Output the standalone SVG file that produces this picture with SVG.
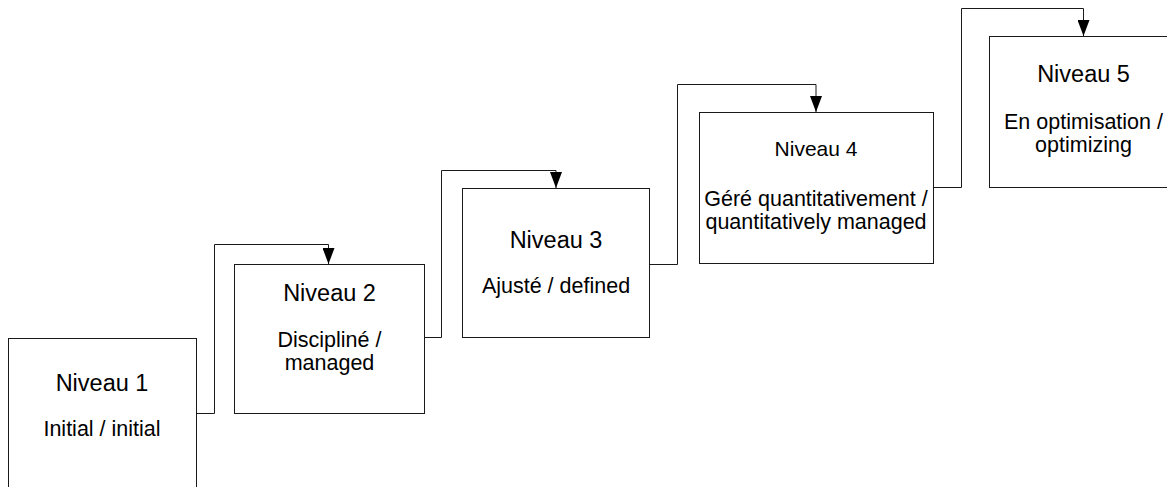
<svg xmlns="http://www.w3.org/2000/svg" width="1167" height="487" viewBox="0 0 1167 487">
  <style>
    .box { fill: #ffffff; stroke: #1a1a1a; stroke-width: 1; }
    .link { fill: none; stroke: #1a1a1a; stroke-width: 1; }
    text { font-family: "Liberation Sans", Arial, sans-serif; fill: #000; text-anchor: middle; }
    .head { font-size: 23.5px; }
    .head4 { font-size: 21px; }
    .sub { font-size: 21.5px; }
  </style>
  <defs>
    <marker id="arrow" markerUnits="userSpaceOnUse" markerWidth="16" markerHeight="12" refX="16" refY="6" orient="auto">
      <path d="M0,0 L16,6 L0,12 Z" fill="#000"/>
    </marker>
  </defs>
  <rect width="1167" height="487" fill="#ffffff"/>

  <!-- step-up connectors between levels -->
  <g id="connectors">
    <path class="link" d="M196.5 413.5 H214.5 V244.5 H328.5 V264" marker-end="url(#arrow)"/>
    <path class="link" d="M424.5 337.5 H441.5 V170.5 H556 V188" marker-end="url(#arrow)"/>
    <path class="link" d="M649.5 264.5 H677.5 V84.5 H816 V112" marker-end="url(#arrow)"/>
    <path class="link" d="M933.5 187.5 H961.5 V8.5 H1083.5 V36" marker-end="url(#arrow)"/>
  </g>

  <g id="level1">
    <rect class="box" x="8.5" y="338.5" width="188" height="160"/>
    <text class="head" x="102" y="391">Niveau 1</text>
    <text class="sub" x="102" y="436">Initial / initial</text>
  </g>

  <g id="level2">
    <rect class="box" x="234.5" y="264.5" width="190" height="149"/>
    <text class="head" x="329.5" y="301">Niveau 2</text>
    <text class="sub" x="329.5" y="347">Discipliné /</text>
    <text class="sub" x="329.5" y="370">managed</text>
  </g>

  <g id="level3">
    <rect class="box" x="462.5" y="188.5" width="187" height="149"/>
    <text class="head" x="556" y="248">Niveau 3</text>
    <text class="sub" x="556" y="293">Ajusté / defined</text>
  </g>

  <g id="level4">
    <rect class="box" x="699.5" y="112.5" width="234" height="151"/>
    <text class="head4" x="816" y="156">Niveau 4</text>
    <text class="sub" x="816" y="206">Géré quantitativement /</text>
    <text class="sub" x="816" y="228.5">quantitatively managed</text>
  </g>

  <g id="level5">
    <rect class="box" x="989.5" y="36.5" width="190" height="151"/>
    <text class="head" x="1083.5" y="82">Niveau 5</text>
    <text class="sub" x="1083.5" y="129">En optimisation /</text>
    <text class="sub" x="1083.5" y="151.5">optimizing</text>
  </g>
</svg>
